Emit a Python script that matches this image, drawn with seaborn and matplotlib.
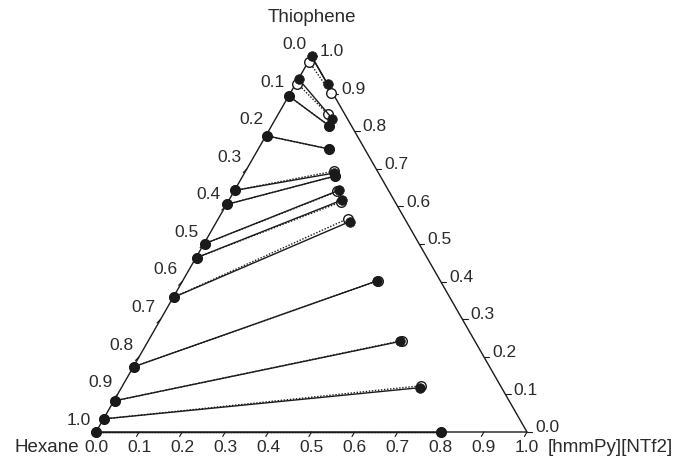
import numpy as np
import pandas as pd
import matplotlib
matplotlib.use("Agg")
import matplotlib.pyplot as plt
import seaborn as sns

# mole fractions (IL = [hmmPy][NTf2], T = thiophene)
tie = list(range(13))
exp_raf_T = [0.000, 0.035, 0.083, 0.174, 0.359, 0.464, 0.501, 0.606, 0.643, 0.788, 0.893, 0.938, 1.000]
exp_raf_IL = [0.000, 0.002, 0.002, 0.002, 0.002, 0.002, 0.002, 0.002, 0.002, 0.002, 0.002, 0.002, 0.000]
exp_ext_T = [0.000, 0.118, 0.241, 0.402, 0.560, 0.617, 0.643, 0.681, 0.689, 0.753, 0.815, 0.834, 0.925]
exp_ext_IL = [0.800, 0.693, 0.585, 0.451, 0.309, 0.262, 0.242, 0.214, 0.208, 0.164, 0.133, 0.131, 0.075]

calc_raf_T = [0.000, 0.035, 0.083, 0.174, 0.359, 0.464, 0.501, 0.606, 0.643, 0.788, 0.893, 0.927, 0.985]
calc_raf_IL = [0.000, 0.002, 0.002, 0.002, 0.002, 0.002, 0.002, 0.002, 0.002, 0.002, 0.002, 0.004, 0.002]
calc_ext_T = [0.000, 0.123, 0.243, 0.403, 0.568, 0.612, 0.640, 0.681, 0.694, 0.753, 0.815, 0.845, 0.901]
calc_ext_IL = [0.800, 0.692, 0.588, 0.453, 0.301, 0.262, 0.240, 0.214, 0.205, 0.164, 0.133, 0.116, 0.095]

ticks = [0.0, 0.1, 0.2, 0.3, 0.4, 0.5, 0.6, 0.7, 0.8, 0.9, 1.0]
tick_labels = ["0.0", "0.1", "0.2", "0.3", "0.4", "0.5", "0.6", "0.7", "0.8", "0.9", "1.0"]

H = np.sqrt(3) / 2


def to_xy(il, t):
    il = np.asarray(il, float)
    t = np.asarray(t, float)
    return il + t / 2, t * H


def tie_frame(raf_il, raf_t, ext_il, ext_t):
    rx, ry = to_xy(raf_il, raf_t)
    ex, ey = to_xy(ext_il, ext_t)
    return pd.DataFrame({
        "X": np.concatenate([rx, ex]),
        "Y": np.concatenate([ry, ey]),
        "tie": tie + tie,
    })


exp_df = tie_frame(exp_raf_IL, exp_raf_T, exp_ext_IL, exp_ext_T)
calc_df = tie_frame(calc_raf_IL, calc_raf_T, calc_ext_IL, calc_ext_T)

sns.set_style("white")
plt.rcParams["font.family"] = ["Liberation Sans", "DejaVu Sans"]
ink = "#1a1a1a"
txt = "#2a2a2a"

fig = plt.figure(figsize=(6.73, 4.57), dpi=100)
ax = fig.add_axes([0, 0, 1, 1])

# triangle frame
ax.plot([0, 1, 0.5, 0], [0, 0, H, 0], color=ink, lw=1.0, zorder=1)

# calculated tie lines (dotted, open symbols)
sns.lineplot(data=calc_df, x="X", y="Y", units="tie", estimator=None, sort=False,
             color=ink, lw=1.0, linestyle=(0, (1, 1.2)), ax=ax, zorder=2)
sns.scatterplot(data=calc_df, x="X", y="Y", s=48, facecolor="white",
                edgecolor=ink, linewidth=1.0, ax=ax, zorder=3)

# experimental tie lines (solid, filled symbols)
sns.lineplot(data=exp_df, x="X", y="Y", units="tie", estimator=None, sort=False,
             color=ink, lw=1.0, ax=ax, zorder=4)
sns.scatterplot(data=exp_df, x="X", y="Y", s=48, color=ink,
                edgecolor=ink, linewidth=0.5, ax=ax, zorder=5)

tl = 0.012
fs = 12.5
for v, lab in zip(ticks, tick_labels):
    # bottom axis: [hmmPy][NTf2]
    bx, by = v, 0.0
    ax.plot([bx, bx - tl * 0.5], [by, by - tl * H], color=ink, lw=0.8)
    ax.text(bx, by - 0.036, lab, ha="center", va="center", fontsize=fs, color=txt)
    # left axis: hexane (0 at top)
    lx, ly = to_xy(0, 1 - v)
    ax.plot([lx, lx - tl * 0.7], [ly, ly - tl * 0.7], color=ink, lw=0.8)
    ax.text(lx - 0.040, ly + 0.027, lab, ha="center", va="center", fontsize=fs, color=txt)
    # right axis: thiophene
    rx, ry = to_xy(1 - v, v)
    ax.plot([rx, rx + tl], [ry, ry], color=ink, lw=0.8)
    ax.text(rx + 0.019, ry + 0.010, lab, ha="left", va="center", fontsize=fs, color=txt)

ax.text(0.5, 0.955, "Thiophene", ha="center", va="center", fontsize=13.5, color=txt)
ax.text(-0.040, -0.036, "Hexane", ha="right", va="center", fontsize=13.5, color=txt)
ax.text(1.049, -0.036, "[hmmPy][NTf2]", ha="left", va="center", fontsize=13.5, color=txt)

ax.set_xlim(-96 / 431, 577 / 431)
ax.set_ylim(-25 / 434, 432 / 434)
ax.set_aspect("auto")
ax.axis("off")
ax.set_xlabel("")
ax.set_ylabel("")

fig.savefig("out.png", dpi=100, facecolor="white")
